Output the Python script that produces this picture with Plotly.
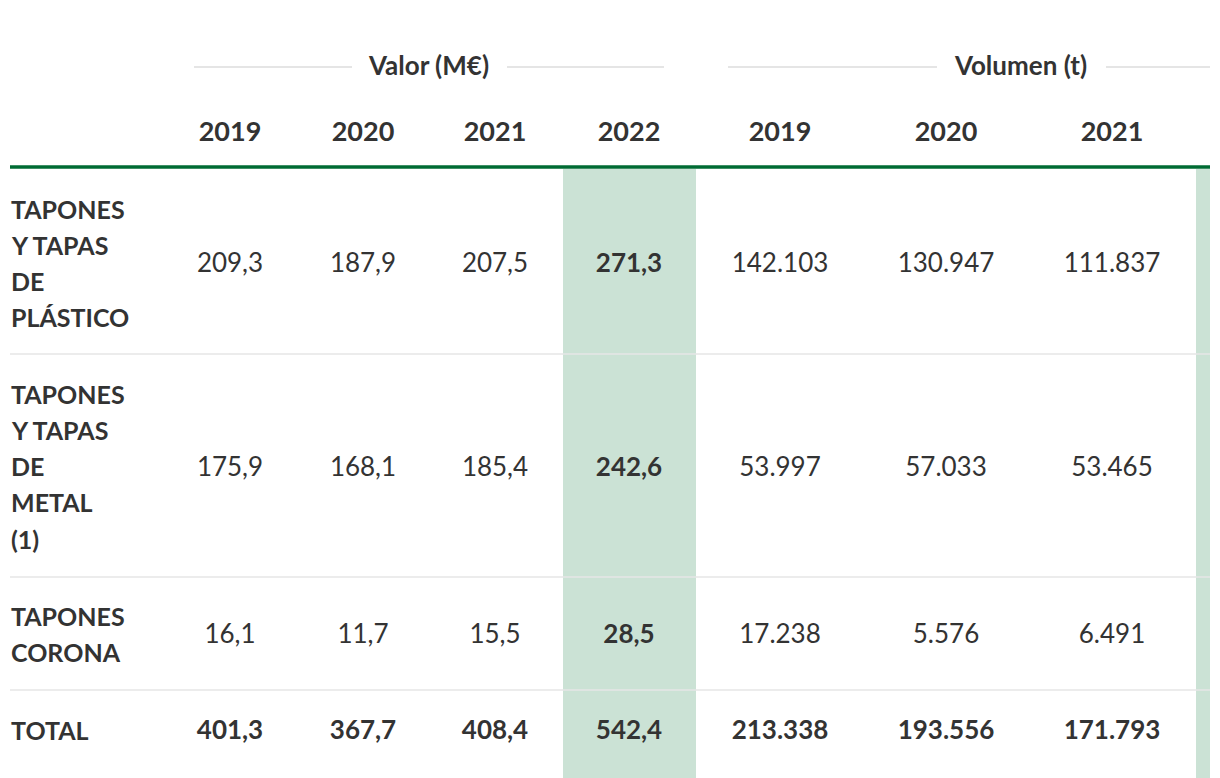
import plotly.graph_objects as go

# ---------------- data ----------------
group_headers = ["Valor (M€)", "Volumen (t)"]
years_valor = ["2019", "2020", "2021", "2022"]
years_volumen = ["2019", "2020", "2021"]
row_labels = [
    ["TAPONES", "Y TAPAS", "DE", "PLÁSTICO"],
    ["TAPONES", "Y TAPAS", "DE", "METAL", "(1)"],
    ["TAPONES", "CORONA"],
    ["TOTAL"],
]
valor = [
    ["209,3", "187,9", "207,5", "271,3"],
    ["175,9", "168,1", "185,4", "242,6"],
    ["16,1", "11,7", "15,5", "28,5"],
    ["401,3", "367,7", "408,4", "542,4"],
]
volumen = [
    ["142.103", "130.947", "111.837"],
    ["53.997", "57.033", "53.465"],
    ["17.238", "5.576", "6.491"],
    ["213.338", "193.556", "171.793"],
]

# ---------------- layout constants (pixel space of the page) ----------------
W, H = 1220, 778
OFF = 8  # default body margin of the html page
FONT = "Lato, 'PT Sans', 'Open Sans', sans-serif"
TXT = "#333333"
FS_LABEL = 25
FS_VAL = 26
FS_HEAD = 27
col_x = [230, 363, 495, 629, 780, 946, 1112]
col_half = 66
row_y = [265.5, 469.5, 636.5, 732.5]
row_line_top = [208.5, 393.5, 615.5, 730]
line_step = 36.3
sep_y = [354, 577, 690]
header_y = 134.5
group_y = 68
green_y = 167

fig = go.Figure()

shapes = []
hl_x0 = col_x[3] - col_half
shapes.append(dict(type="rect", xref="x", yref="y", x0=hl_x0, x1=hl_x0 + 133,
                   y0=169, y1=H + 5, fillcolor="#cbe2d5", line_width=0, layer="below"))
shapes.append(dict(type="rect", xref="x", yref="y", x0=1196, x1=1210,
                   y0=169, y1=H + 5, fillcolor="#cbe2d5", line_width=0, layer="below"))
shapes.append(dict(type="line", xref="x", yref="y", x0=10, x1=1210, y0=green_y, y1=green_y,
                   line=dict(color="#006b33", width=3.5)))
for sy in sep_y:
    shapes.append(dict(type="line", xref="x", yref="y", x0=10, x1=1210, y0=sy, y1=sy,
                       line=dict(color="#e6e6e6", width=1.5)))
for x0, x1 in [(194, 352), (507, 664), (728, 937), (1106, 1210)]:
    shapes.append(dict(type="line", xref="x", yref="y", x0=x0, x1=x1, y0=67, y1=67,
                       line=dict(color="#cccccc", width=1.2)))

# group header titles
fig.add_trace(go.Scatter(
    x=[429, 1021], y=[group_y, group_y], mode="text", text=group_headers,
    textfont=dict(family=FONT, size=FS_HEAD - 1, color=TXT, weight="bold"),
    textposition="middle center", hoverinfo="skip", showlegend=False))

# year headers
years_all = years_valor + years_volumen
fig.add_trace(go.Scatter(
    x=col_x[:len(years_all)], y=[header_y] * len(years_all), mode="text", text=years_all,
    textfont=dict(family=FONT, size=FS_HEAD, color=TXT, weight="bold"),
    textposition="middle center", hoverinfo="skip", showlegend=False))

# values
n_rows = len(valor)
for r in range(n_rows):
    cells = valor[r] + volumen[r]
    xs = col_x[:len(cells)]
    is_total = r == n_rows - 1
    bold_mask = [is_total or c == 3 for c in range(len(cells))]
    for bold in (False, True):
        sel = [i for i in range(len(cells)) if bold_mask[i] == bold]
        if not sel:
            continue
        fig.add_trace(go.Scatter(
            x=[xs[i] for i in sel], y=[row_y[r]] * len(sel), mode="text",
            text=[cells[i] for i in sel],
            textfont=dict(family=FONT, size=FS_VAL, color=TXT, weight="bold" if bold else "normal"),
            textposition="middle center", hoverinfo="skip", showlegend=False))

# row labels (left aligned, one annotation per line)
annotations = []
for r, lines in enumerate(row_labels):
    for k, ln in enumerate(lines):
        annotations.append(dict(
            x=9, y=row_line_top[r] + k * line_step, xref="x", yref="y", text=ln,
            showarrow=False, xanchor="left", yanchor="middle",
            font=dict(family=FONT, size=FS_LABEL, color=TXT, weight="bold")))

fig.update_layout(
    width=W - OFF, height=H - OFF,
    margin=dict(l=0, r=0, t=0, b=0),
    paper_bgcolor="white", plot_bgcolor="white",
    xaxis=dict(range=[OFF, W], visible=False, fixedrange=True),
    yaxis=dict(range=[H, OFF], visible=False, fixedrange=True),
    shapes=shapes, annotations=annotations,
)

fig.write_html("out.html")
